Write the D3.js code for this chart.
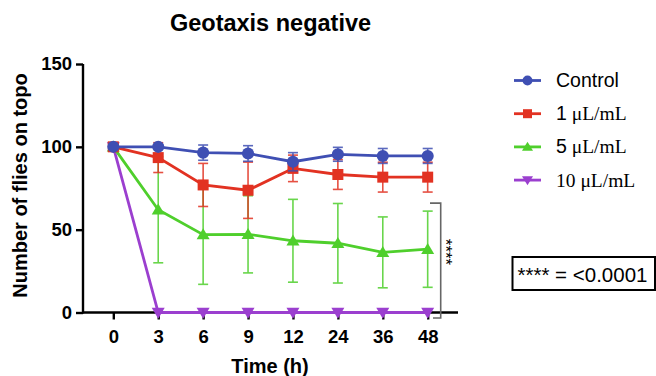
<!DOCTYPE html>
<html>
<head>
<meta charset="utf-8">
<script src="https://cdn.jsdelivr.net/npm/d3@7"></script>
<style>
  body { margin: 0; background: #fff; }
  text { font-family: "Liberation Sans", Arial, sans-serif; }
</style>
</head>
<body>
<div id="chart"></div>
<script>
// data
var times = ["0", "3", "6", "9", "12", "24", "36", "48"];
var control = [100, 100, 96.5, 96, 91, 95.5, 94.5, 94.5];
var controlSd = [0, 1, 4.6, 4.7, 5.5, 4.2, 4.5, 4.5];
var dose1 = [100, 93.5, 77, 73.8, 87, 83.3, 81.7, 81.7];
var dose1Sd = [0, 9, 13, 17, 8, 9, 9, 9];
var dose5 = [100, 62, 47, 47.2, 43.3, 41.8, 36.3, 38.2];
var dose5Sd = [0, 32, 30, 23.3, 25, 24, 21.4, 23];
var dose10 = [100, 0, 0, 0, 0, 0, 0, 0];
var dose10Sd = [0, 0, 0, 0, 0, 0, 0, 0];
var yTicks = [0, 50, 100, 150];

var series = [
  {num: "10", unit: " \u03bcL/mL", numSerif: true, values: dose10, sd: dose10Sd, color: "#9B3FCF", shape: "tdown"},
  {num: "5", unit: " \u03bcL/mL", values: dose5, sd: dose5Sd, color: "#4FCF2C", shape: "tup"},
  {num: "1", unit: " \u03bcL/mL", values: dose1, sd: dose1Sd, color: "#E23222", shape: "square"},
  {num: "Control", unit: "", values: control, sd: controlSd, color: "#3F4FB3", shape: "circle"}
];

var W = 656, H = 376;
var svg = d3.select("#chart").append("svg")
  .attr("width", W).attr("height", H);

var x = d3.scalePoint().domain(times).range([83, 458]).padding(0.675);
var y = d3.scaleLinear().domain([0, 150]).range([312.5, 64]);

// title
svg.append("text")
  .attr("x", 270.5).attr("y", 31)
  .attr("text-anchor", "middle")
  .attr("font-size", 23.5).attr("font-weight", "bold")
  .text("Geotaxis negative");

// axes
var yAxis = svg.append("g")
  .attr("transform", "translate(83,0)")
  .call(d3.axisLeft(y).tickValues(yTicks).tickSize(7).tickPadding(4));
var xAxis = svg.append("g")
  .attr("transform", "translate(0,312.5)")
  .call(d3.axisBottom(x).tickSize(7).tickPadding(10));
[xAxis, yAxis].forEach(function(a) {
  a.select(".domain").attr("stroke", "#000").attr("stroke-width", 2.4);
  a.selectAll(".tick line").attr("stroke", "#000").attr("stroke-width", 2.4);
  a.selectAll(".tick text")
    .attr("font-family", "Liberation Sans, Arial, sans-serif")
    .attr("font-size", 18.5).attr("font-weight", "bold").attr("fill", "#000");
});
xAxis.select(".domain").attr("d", "M82,0H458");
yAxis.select(".domain").attr("d", "M0,64V313.5");

// axis labels
svg.append("text")
  .attr("transform", "translate(27,185.5) rotate(-90)")
  .attr("text-anchor", "middle")
  .attr("font-size", 20).attr("font-weight", "bold")
  .text("Number of flies on topo");
svg.append("text")
  .attr("x", 270).attr("y", 373)
  .attr("text-anchor", "middle")
  .attr("font-size", 20).attr("font-weight", "bold")
  .text("Time (h)");

function marker(g, shape, color, size) {
  if (shape === "circle") {
    g.append("circle").attr("r", size * 0.55).attr("fill", color);
  } else if (shape === "square") {
    g.append("rect").attr("x", -size / 2).attr("y", -size / 2)
      .attr("width", size).attr("height", size).attr("fill", color);
  } else {
    var s = shape === "tup" ? 1 : -1;
    var h = size * 0.95;
    g.append("path")
      .attr("d", "M0," + (-s * h * 0.6) + "L" + (size / 2 + 1) + "," + (s * h * 0.45) +
        "L" + (-size / 2 - 1) + "," + (s * h * 0.45) + "Z")
      .attr("fill", color);
  }
}

var line = d3.line()
  .x(function(d, i) { return x(times[i]); })
  .y(function(d) { return y(d); });

series.forEach(function(s) {
  var g = svg.append("g");
  // error bars
  s.values.forEach(function(v, i) {
    if (!s.sd[i]) return;
    var cx = x(times[i]);
    var eg = g.append("g").attr("stroke", s.color).attr("stroke-width", 1.6).attr("opacity", 0.85);
    eg.append("line").attr("x1", cx).attr("x2", cx)
      .attr("y1", y(v + s.sd[i])).attr("y2", y(v - s.sd[i]));
    [v + s.sd[i], v - s.sd[i]].forEach(function(e) {
      eg.append("line").attr("x1", cx - 5).attr("x2", cx + 5)
        .attr("y1", y(e)).attr("y2", y(e));
    });
  });
  g.append("path").datum(s.values)
    .attr("d", line).attr("fill", "none")
    .attr("stroke", s.color).attr("stroke-width", 2.8);
  s.values.forEach(function(v, i) {
    var mg = g.append("g").attr("transform", "translate(" + x(times[i]) + "," + y(v) + ")");
    marker(mg, s.shape, s.color, 11);
  });
});

// significance bracket
var bx = 440.7;
svg.append("path")
  .attr("d", "M430," + y(66) + "H" + bx + "V318H433")
  .attr("fill", "none").attr("stroke", "#666").attr("stroke-width", 1.6);
svg.append("text")
  .attr("transform", "translate(439.5,252) rotate(90)")
  .attr("text-anchor", "middle")
  .attr("font-size", 17)
  .text("****");

// legend
var legendOrder = series.slice().reverse();
legendOrder.forEach(function(s, i) {
  var ly = 80.5 + i * 33.2;
  var lg = svg.append("g").attr("transform", "translate(0," + ly + ")");
  lg.append("line").attr("x1", 514).attr("x2", 541)
    .attr("stroke", s.color).attr("stroke-width", 2.8);
  var mg = lg.append("g").attr("transform", "translate(527.5,0)");
  marker(mg, s.shape, s.color, 9);
  var t = lg.append("text").attr("x", 556).attr("y", 6.5).attr("font-size", 19.5);
  t.append("tspan")
    .attr("font-family", s.numSerif ? "Liberation Serif, Times New Roman, serif" : "Liberation Sans, Arial, sans-serif")
    .text(s.num);
  if (s.unit) {
    t.append("tspan")
      .attr("font-family", "Liberation Serif, Times New Roman, serif")
      .text(s.unit);
  }
});

// p-value box
svg.append("rect")
  .attr("x", 512.5).attr("y", 257).attr("width", 142.5).attr("height", 33)
  .attr("fill", "none").attr("stroke", "#000").attr("stroke-width", 2);
svg.append("text")
  .attr("x", 517.5).attr("y", 281.5).attr("font-size", 20.5)
  .text("**** = <0.0001");
</script>
</body>
</html>
